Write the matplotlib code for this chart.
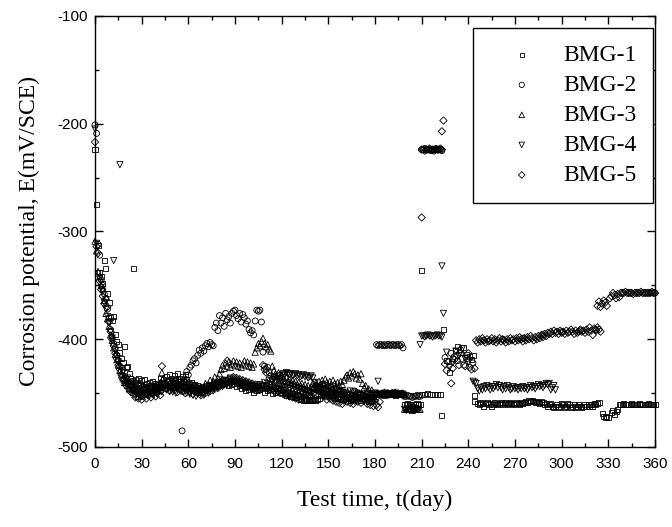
import numpy as np
import matplotlib
matplotlib.use("Agg")
import matplotlib.pyplot as plt
from matplotlib.ticker import MultipleLocator

plt.rcParams['axes.unicode_minus'] = False

labels = ["BMG-1", "BMG-2", "BMG-3", "BMG-4", "BMG-5"]
x_ticks = [0, 30, 60, 90, 120, 150, 180, 210, 240, 270, 300, 330, 360]
y_ticks = [-500, -400, -300, -200, -100]

# ---- BMG-1 (daily runs: start day, values) ----
bmg1_runs = [
    (0, [-224, -275, -313, -338, -342, -348, -327, -334, -358, -366,
         -380, -383, -379, -396, -402, -405, -412, -418, -422, -407,
         -426, -425, -432, -436, -438, -334, -437, -440, -436, -442,
         -438, -444, -437, -441, -446, -440, -443, -439, -444, -441,
         -446, -442, -436, -440, -437, -442, -435, -438, -433, -436,
         -440, -434, -437, -432, -436, -439, -435, -438, -433, -437,
         -441, -444, -440, -446, -442, -447, -443, -448, -445, -449,
         -444, -447, -443, -446, -442, -445, -441, -444, -440, -443,
         -439, -442, -438, -441, -437, -440, -443, -439, -442, -438,
         -441, -444, -440, -443, -446, -442, -445, -448, -444, -447,
         -443, -446, -449, -445, -448, -444, -447, -443, -446, -449,
         -445, -448, -444, -447, -450, -446, -449, -445, -448, -446,
         -449, -447, -450, -452, -449, -451, -453, -450, -452, -454,
         -451, -453, -456, -456, -457, -456, -457, -456, -457, -456,
         -457, -456, -457, -456, -455, -452, -449, -451, -448, -452,
         -450, -453, -449, -452, -455, -451, -454, -450, -453, -456,
         -452, -455, -451, -454, -457, -453, -456, -452, -455, -451,
         -454, -457, -453, -456, -452, -455, -458, -454, -457, -453,
         -451]),
    (181, [-451, -451, -450, -451, -451, -452, -451, -451, -450, -451,
           -451, -451, -452, -451, -451, -450, -451, -451]),
    (199, [-461, -461, -460, -461, -461, -462, -461, -461, -460, -461, -461]),
    (246, [-460, -461, -459, -460, -462, -460, -459, -461, -460, -462,
           -461, -459, -460, -461, -460, -459, -461, -460, -459, -461,
           -460, -459, -460, -461, -460, -459, -460, -461, -459, -460,
           -459, -458, -459, -457, -458, -457, -458, -459, -458, -459,
           -460, -458, -459, -461, -460, -462, -461, -460, -462, -463,
           -462, -461, -463, -462, -460, -461, -463, -462, -460, -461,
           -463, -462, -461, -463, -462, -461, -462, -463, -462, -461,
           -462, -461, -462, -461, -462, -460, -461, -460, -459]),
    (337, [-461, -461, -461, -460, -461, -461, -461, -461, -460, -461,
           -461, -461, -461, -460, -461, -461, -461, -461, -461, -460,
           -461, -461, -461, -461]),
]
bmg1_day = [210, 212, 214, 216, 218, 220, 222, 210, 223, 224,
            226, 228, 230, 232, 233, 235, 237, 239, 241, 242, 243, 244, 244,
            326, 327, 328, 329, 330, 332, 333, 334, 335, 336]
bmg1_E = [-451, -451, -450, -451, -451, -451, -451, -336, -471, -391,
          -420, -431, -418, -410, -407, -412, -408, -414, -416, -419, -415, -452, -458,
          -469, -472, -473, -472, -473, -468, -466, -470, -467, -465]

# ---- BMG-2 ----
bmg2_runs = [
    (0, [-201, -209, -312, -322, -345, -350, -358, -362, -372, -380,
         -391, -398, -404, -409, -415, -420, -425, -430, -434, -437,
         -436, -440, -443, -441, -446, -444, -448, -446, -450, -447,
         -452, -449, -446, -451, -448, -445, -450, -447, -444, -449,
         -446, -443, -448, -445, -441, -446, -443, -439, -444, -441,
         -445, -442, -438, -443, -440, -444, -485, -441, -437, -430,
         -433, -426, -424, -420, -418, -422, -415, -410, -413, -408,
         -411, -406, -404, -407, -403, -405, -406, -389, -385, -392,
         -378, -385, -380, -388, -376, -382, -379, -385, -376, -374,
         -373, -378, -381, -376, -384, -377, -380, -386, -383, -391,
         -394, -392, -396, -383, -373, -374, -373, -384, -412, -425,
         -428, -426, -431, -434, -437, -435, -440, -438, -442, -439,
         -443, -440, -444, -441, -445, -442, -446, -443, -447, -444,
         -448, -445, -449, -446, -450, -447, -451, -448, -452, -449,
         -446, -450, -447, -444, -448, -445, -442, -446, -443, -447,
         -444, -448, -445, -449, -446, -450, -447, -451, -448, -452,
         -449, -453, -450, -454, -451, -455, -452, -448, -453, -450,
         -454, -451, -455, -452, -456, -453, -457, -454, -458, -455,
         -452]),
    (181, [-405, -406, -405, -405, -406, -405, -406, -405, -405, -406,
           -405, -405, -406, -405, -405, -406, -405, -408]),
    (199, [-453, -453, -452, -453, -453, -454, -453, -453, -452, -453, -453]),
    (210, [-224, -224, -223, -224, -224, -224, -225, -224, -224, -223,
           -224, -224, -224, -225]),
]
bmg2_day = [225, 227, 229, 231, 233, 235, 237, 239, 241, 243,
            250, 262, 275, 288, 300, 312, 322, 358, 360]
bmg2_E = [-417, -421, -413, -416, -420, -410, -424, -418, -426, -422,
          -401, -400, -399, -396, -393, -392, -391, -357, -357]

# ---- BMG-3 ----
bmg3_runs = [
    (0, [-309, -318, -337, -342, -350, -353, -364, -376, -381, -388,
         -396, -401, -408, -414, -419, -424, -429, -433, -436, -440,
         -438, -443, -446, -442, -447, -445, -450, -448, -453, -449,
         -446, -451, -447, -444, -449, -446, -443, -448, -445, -442,
         -447, -444, -440, -431, -436, -443, -440, -445, -441, -438,
         -443, -439, -444, -440, -437, -442, -438, -443, -439, -444,
         -440, -445, -441, -446, -442, -447, -443, -448, -444, -449,
         -445, -441, -446, -442, -438, -443, -439, -435, -440, -436,
         -432, -428, -424, -427, -422, -425, -421, -426, -423, -420,
         -424, -421, -425, -422, -426, -423, -420, -424, -421, -425,
         -422, -426, -423, -412, -408, -404, -406, -402, -399, -404,
         -407, -405, -409, -411, -425, -429, -432, -434, -431, -435,
         -433, -436, -438, -435, -439, -437, -440, -438, -441, -439,
         -442, -440, -443, -441, -444, -442, -445, -443, -446, -444,
         -441, -444, -440, -443, -439, -442, -438, -441, -437, -440,
         -443, -439, -442, -438, -441, -444, -440, -443, -439, -442,
         -438, -435, -433, -436, -431, -434, -430, -432, -436, -433,
         -437, -432, -441, -445, -443, -448, -446, -450, -447, -453,
         -450]),
    (181, [-450, -450, -451, -450, -450, -449, -450, -450, -451, -450,
           -450, -450, -449, -450, -450, -451, -450, -450]),
    (199, [-465, -465, -464, -465, -465, -466, -465, -465, -464, -465, -465]),
]
bmg3_day = []
bmg3_E = []

# ---- BMG-4 ----
bmg4_runs = [
    (0, [-205, -311, -339, -344, -352, -356, -366, -372, -379, -385,
         -393, -399, -327, -410, -416, -421, -238, -427, -431, -435,
         -438, -436, -441, -444, -440, -445, -443, -447, -444, -449,
         -446, -450, -447, -451, -448, -452, -449, -446, -450, -447,
         -451, -448, -445, -449, -446, -443, -447, -444, -448, -445,
         -449, -446, -450, -447, -444, -448, -445, -449, -446, -450,
         -447, -451, -448, -452, -449, -453, -450, -447, -451, -448,
         -452, -449, -446, -450, -447, -444, -448, -445, -442, -446,
         -443, -440, -444, -441, -438, -442, -439, -436, -440, -437,
         -441, -438, -442, -439, -443, -440, -444, -441, -445, -442,
         -446, -443, -447, -444, -448, -445, -442, -446, -443, -440,
         -444, -441, -438, -442, -439, -436, -440, -437, -434, -437,
         -434, -432, -433, -431, -432, -433, -432, -434, -433, -432,
         -434, -433, -435, -434, -433, -435, -434, -436, -435, -434,
         -436, -440, -444, -447, -445, -449, -446, -450, -447, -451,
         -448, -452, -449, -453, -450, -447, -451, -448, -452, -449,
         -453, -450, -454, -451, -448, -452, -449, -453, -450, -454,
         -451, -455, -452, -456, -453, -450, -454, -451, -455, -452,
         -450]),
    (183, [-451, -452, -451, -451, -450, -451, -452, -451, -451, -451,
           -450, -451, -452, -451, -451, -451]),
    (199, [-465, -466, -465, -465, -464, -465, -466, -465, -465, -465]),
    (210, [-397, -397, -398, -397, -396, -397, -397, -398, -397, -397,
           -396, -397, -397, -398]),
    (246, [-446, -448, -445, -447, -444, -446, -443, -445, -447, -444,
           -446, -444, -442, -445, -443, -445, -447, -444, -446, -443,
           -445, -447, -446, -444, -446, -445, -447, -445, -446, -444,
           -446, -445, -447, -445, -443, -445, -444, -446, -444, -442,
           -444, -443, -445, -443, -441, -442, -441, -447, -445, -443,
           -447]),
]
bmg4_day = [182, 209, 223, 224, 226, 228, 230, 232, 234, 236, 238, 240,
            243, 244, 245]
bmg4_E = [-439, -405, -332, -376, -412, -426, -422, -411, -415, -409, -418, -421,
          -439, -440, -441]

# ---- BMG-5 ----
bmg5_runs = [
    (0, [-217, -314, -320, -346, -354, -360, -367, -363, -370, -384,
         -393, -400, -406, -413, -418, -424, -428, -433, -437, -440,
         -443, -441, -446, -449, -447, -451, -454, -450, -455, -452,
         -456, -453, -450, -455, -452, -449, -454, -451, -448, -453,
         -450, -447, -452, -425, -444, -441, -446, -443, -448, -445,
         -442, -447, -444, -449, -446, -443, -448, -445, -450, -447,
         -444, -449, -446, -451, -448, -445, -450, -447, -452, -449,
         -446, -450, -447, -444, -448, -445, -442, -446, -443, -440,
         -444, -441, -438, -442, -439, -420, -437, -441, -438, -435,
         -439, -436, -440, -437, -441, -438, -442, -439, -443, -440,
         -444, -441, -445, -442, -446, -443, -447, -444, -424, -428,
         -431, -446, -442, -447, -444, -448, -445, -449, -446, -450,
         -447, -451, -448, -452, -449, -453, -450, -454, -451, -455,
         -452, -456, -453, -450, -454, -451, -455, -452, -449, -453,
         -450, -446, -443, -447, -444, -448, -452, -449, -453, -456,
         -452, -455, -451, -457, -454, -458, -455, -459, -456, -460,
         -457, -453, -458, -455, -459, -456, -460, -457, -454, -458,
         -455, -459, -452, -457, -454, -460, -456, -461, -458, -462,
         -457, -461, -463, -458]),
    (210, [-224, -224, -225, -224, -224, -223, -224, -224, -225, -224,
           -224, -224, -223, -224]),
    (245, [-401, -403, -400, -402, -399, -401, -403, -400, -402, -401,
           -399, -402, -400, -403, -401, -399, -402, -400, -401, -403,
           -400, -402, -399, -401, -400, -402, -399, -401, -398, -400,
           -402, -399, -401, -398, -400, -397, -399, -401, -398, -400,
           -397, -399, -396, -398, -395, -397, -394, -395, -393, -395,
           -392, -394, -393, -395, -392, -394, -393, -395, -392, -394,
           -393, -391, -393, -395, -392, -394, -393, -391, -393, -392,
           -394, -391, -393, -389, -392, -396, -390, -392, -389, -391,
           -393]),
    (338, [-357, -357, -357, -356, -357, -357, -357, -357, -358, -357,
           -357, -357, -357, -356, -357, -357, -357, -357, -357, -357,
           -356, -357, -357]),
]
bmg5_day = [185, 188, 191, 194, 197, 198, 210, 223, 224,
            225, 226, 229, 230, 231, 233, 234, 236, 238, 240, 242, 244,
            323, 324, 325, 326, 327, 328, 329, 331, 332, 333, 334, 335, 336, 337]
bmg5_E = [-451, -451, -450, -451, -451, -452, -287, -207, -197,
          -423, -429, -441, -427, -419, -415, -424, -418, -425, -413, -428, -427,
          -369, -365, -370, -367, -364, -366, -369, -362, -360, -357, -359, -362, -358, -361]


def expand(runs, days, vals):
    d = [np.arange(s, s + len(v)) for s, v in runs] + [np.asarray(days, float)]
    e = [np.asarray(v, float) for _, v in runs] + [np.asarray(vals, float)]
    return np.concatenate(d), np.concatenate(e)


series = [
    expand(bmg1_runs, bmg1_day, bmg1_E),
    expand(bmg2_runs, bmg2_day, bmg2_E),
    expand(bmg3_runs, bmg3_day, bmg3_E),
    expand(bmg4_runs, bmg4_day, bmg4_E),
    expand(bmg5_runs, bmg5_day, bmg5_E),
]
markers = ['s', 'o', '^', 'v', 'D']
sizes = [13, 18, 20, 20, 14]

fig = plt.figure(figsize=(6.72, 5.27), dpi=100)
ax = fig.add_axes([95 / 672, 80 / 527, 560 / 672, 431 / 527])

for (d, e), m, s, lab in zip(series, markers, sizes, labels):
    ax.scatter(d, e, marker=m, s=s, facecolors='none', edgecolors='black',
               linewidths=0.6, label=lab, clip_on=False)

ax.set_xlim(0, 360)
ax.set_ylim(-500, -100)
ax.set_xticks(x_ticks)
ax.set_yticks(y_ticks)
ax.xaxis.set_minor_locator(MultipleLocator(15))
ax.yaxis.set_minor_locator(MultipleLocator(50))
ax.tick_params(which='both', direction='in', top=True, right=True, width=1.0)
ax.tick_params(which='major', length=5.5)
ax.tick_params(which='minor', length=3)
ax.tick_params(axis='x', which='major', pad=7)
ax.tick_params(axis='y', which='major', pad=5)
for sp in ax.spines.values():
    sp.set_linewidth(1.0)
for t in ax.get_xticklabels() + ax.get_yticklabels():
    t.set_fontfamily('Liberation Sans')
    t.set_fontsize(11)

ax.set_xlabel('Test time, t(day)', fontfamily='Liberation Serif', fontsize=17, labelpad=14)
ax.set_ylabel('Corrosion potential, E(mV/SCE)', fontfamily='Liberation Serif', fontsize=17)
ax.yaxis.set_label_coords(-0.098, 0.5)

leg = ax.legend(loc='upper right', bbox_to_anchor=(0.9964, 0.9722), borderaxespad=0,
                prop={'family': 'Liberation Serif', 'size': 17}, scatterpoints=1,
                fancybox=False, edgecolor='black', framealpha=1, markerscale=0.9,
                borderpad=0.7, handlelength=2.7, handletextpad=0.4, labelspacing=0.36)
leg.get_frame().set_linewidth(1.0)

fig.savefig('out.png', dpi=100)
